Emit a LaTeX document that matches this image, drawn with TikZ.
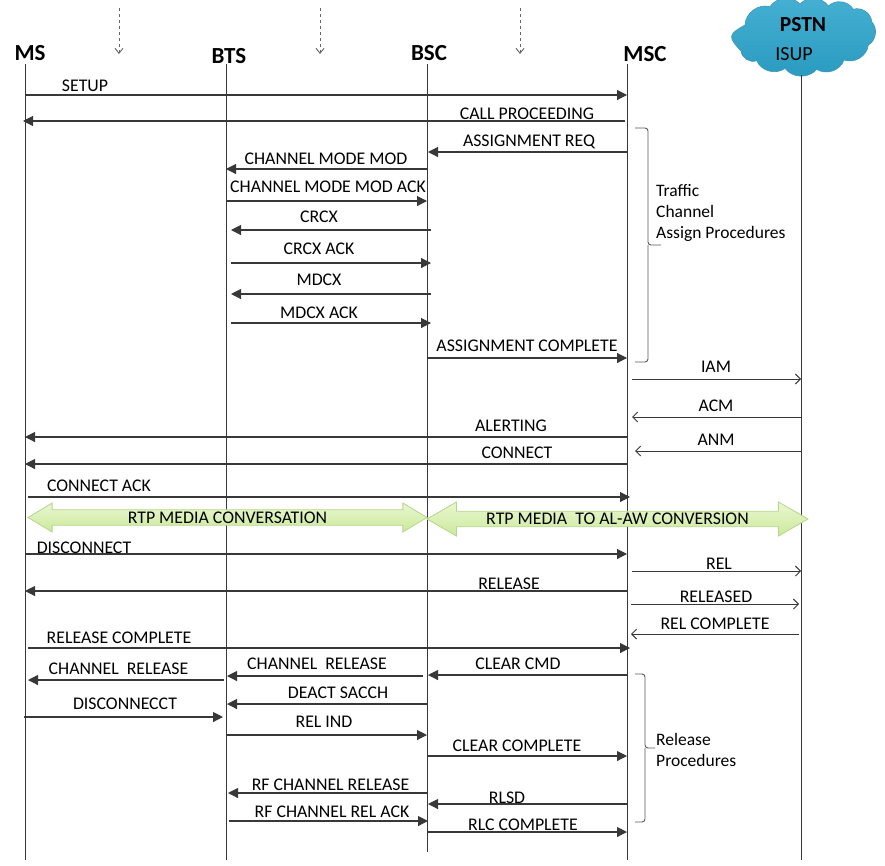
\documentclass[tikz,border=0pt]{standalone}
\usepackage{fontspec}
\setmainfont{Carlito}
\usetikzlibrary{positioning, arrows.meta, shapes.arrows}
\colorlet{rule}{black!78}
\definecolor{cloudT}{HTML}{45B0D2}
\definecolor{cloudB}{HTML}{2A9AC0}
\definecolor{cloudD}{HTML}{3F96B8}
\definecolor{mediaT}{HTML}{EAF7D2}
\definecolor{mediaB}{HTML}{CBE99A}
\definecolor{mediaD}{HTML}{B4D68A}
\tikzset{
  lifeline/.style ={rule, line width=0.9pt},
  actor/.style    ={font=\fontsize{23}{25}\selectfont\bfseries, inner sep=0pt},
  msg/.style      ={-{Triangle[length=10pt, width=10pt]}, rule, line width=1.1pt},
  sig/.style      ={-{Straight Barb[length=5pt, width=10pt]}, rule, line width=0.9pt},
  hint/.style     ={-{Straight Barb[length=5pt, width=8pt]}, black!60, line width=0.9pt, dashed},
  msglabel/.style ={font=\fontsize{17.8}{20}\selectfont, inner sep=0pt, yshift=-0.8pt},
  notelabel/.style={font=\fontsize{17.5}{21}\selectfont, inner sep=0pt, anchor=west, align=left},
  group/.style    ={black!65, line width=0.9pt, rounded corners=3pt},
  puff/.style     ={bend right=52},
  media/.style    ={double arrow, double arrow head indent=0pt, draw=mediaD,
                    top color=mediaT, bottom color=mediaB, line width=0.8pt,
                    font=\fontsize{17.8}{20}\selectfont, inner sep=0pt},
}
\begin{document}
\begin{tikzpicture}[x=1pt, y=-1pt]
\useasboundingbox (0,0) rectangle (885,865);

% actors
\node[actor] (MS)  at (30, 53) {MS};
\node[actor] (BTS) at (229, 56) {BTS};
\node[actor] (BSC) at (429, 53) {BSC};
\node[actor] (MSC) at (645, 54) {MSC};

% cloud
\path[top color=cloudT, bottom color=cloudB, draw=cloudD, line width=0.6pt]
  (745,25) to[puff, looseness=1.9] (741,51) to[puff] (756.7,60.7) to[puff] (785,68.3)
  to[puff] (816.7,69.3) to[puff] (844,60) to[puff] (868.3,45) to[puff] (871.7,21.7)
  to[puff] (853.3,9.3) to[puff] (828.3,6) to[puff] (800,4) to[puff] (770,6.7)
  to[puff] (745,25) -- cycle;
\node[font=\fontsize{21.5}{23}\selectfont\bfseries, inner sep=0pt] (PSTN) at (803, 25) {PSTN};
\node[font=\fontsize{20}{22}\selectfont, inner sep=0pt] (ISUP) at (794, 54) {ISUP};

% lifelines
\foreach \act/\xpos/\yend in {MS/25/860, BTS/226/860, BSC/427/852, MSC/627/860} {
  \coordinate (\act top) at (\xpos, 64);
  \coordinate (\act end) at (\xpos, \yend);
  \draw[lifeline] (\act top) -- (\act end);
}
\coordinate (PSTNtop) at (801, 75);
\coordinate (PSTNend) at (801, 860);
\draw[lifeline] (PSTNtop) -- (PSTNend);

% dashed hints on top
\foreach \hnum/\xpos in {1/119, 2/320, 3/520} {
  \coordinate (hint\hnum a) at (\xpos, 8);
  \coordinate (hint\hnum b) at (\xpos, 54);
  \draw[hint] (hint\hnum a) -- (hint\hnum b);
}

% messages with solid heads
\foreach \mnum/\xa/\xb/\ypos/\txt/\lx/\ly in {
  1/25/627/95/SETUP/85/85,
  2/625/23/121/CALL PROCEEDING/527/113,
  3/627/428/152/ASSIGNMENT REQ/529/141,
  4/427/226/169/CHANNEL MODE MOD/326/158,
  5/226/427/201/CHANNEL MODE MOD ACK/328/186,
  6/431/231/230/CRCX/319/216,
  7/231/431/263/CRCX ACK/319/248,
  8/431/231/294/MDCX/319/279,
  9/231/431/323/MDCX ACK/319/312,
  10/428/627/358/ASSIGNMENT COMPLETE/527/345,
  11/627/25/437/ALERTING/511/425,
  12/627/25/464/CONNECT/517/452,
  13/28/630/497/CONNECT ACK/99/485,
  14/25/627/554/DISCONNECT/84/547,
  15/627/25/591/RELEASE/509/583,
  16/28/630/648/RELEASE COMPLETE/119/637,
  17/627/428/675/CLEAR CMD/518/663,
  18/423/227/676/CHANNEL\ \ RELEASE/317/663,
  19/224/28/680/CHANNEL\ \ RELEASE/118.5/668,
  20/427/227/704/DEACT SACCH/338/692,
  21/24/223/717/DISCONNECCT/125/703,
  22/227/427/735/REL IND/324/721,
  23/427/627/756/CLEAR COMPLETE/517/745,
  24/427/228/793/RF CHANNEL RELEASE/330.5/784,
  25/627/428/804/RLSD/507/797,
  26/229/428/821/RF CHANNEL REL ACK/332/811,
  27/427/627/832/RLC COMPLETE/523/824} {
  \coordinate (m\mnum a) at (\xa, \ypos);
  \coordinate (m\mnum b) at (\xb, \ypos);
  \draw[msg] (m\mnum a) -- (m\mnum b);
  \node[msglabel] (t\mnum) at (\lx, \ly) {\txt};
}

% ISUP signalling
\foreach \snum/\xa/\xb/\ypos/\txt/\lx/\ly in {
  1/632/801/379/IAM/716/366,
  2/801/632/417/ACM/716/405,
  3/801/635/451/ANM/716/439,
  4/632/801/571/REL/719/563,
  5/631/799/604/RELEASED/716/596,
  6/799/631/634/REL COMPLETE/715/623} {
  \coordinate (s\snum a) at (\xa, \ypos);
  \coordinate (s\snum b) at (\xb, \ypos);
  \draw[sig] (s\snum a) -- (s\snum b);
  \node[msglabel] (u\snum) at (\lx, \ly) {\txt};
}

% media paths
\node[media, minimum height=399pt, minimum width=29pt, double arrow head extend=5.5pt,
      double arrow tip angle=62] (RTP) at (227.5, 517.5) {RTP MEDIA CONVERSATION};
\node[media, minimum height=381pt, minimum width=34pt, double arrow head extend=7.5pt,
      double arrow tip angle=60] (LAW) at (617.5, 519) {RTP MEDIA\ \ TO AL-AW CONVERSION};

% procedure groups
\coordinate (g1a) at (635, 128);
\coordinate (g1b) at (635, 362);
\coordinate (g1m) at (661, 245);
\draw[group] (g1a) -- (648, 128) -- (648, 245) -- (g1m);
\draw[group] (g1b) -- (648, 362) -- (648, 245);
\node[notelabel] (g1text) at (656, 212.5) {Traffic\\Channel\\Assign Procedures};

\coordinate (g2a) at (635, 674);
\coordinate (g2b) at (635, 822);
\coordinate (g2m) at (655, 748);
\draw[group] (g2a) -- (645, 674) -- (645, 748) -- (g2m);
\draw[group] (g2b) -- (645, 822) -- (645, 748);
\node[notelabel] (g2text) at (656, 750) {Release\\Procedures};

\end{tikzpicture}
\end{document}
